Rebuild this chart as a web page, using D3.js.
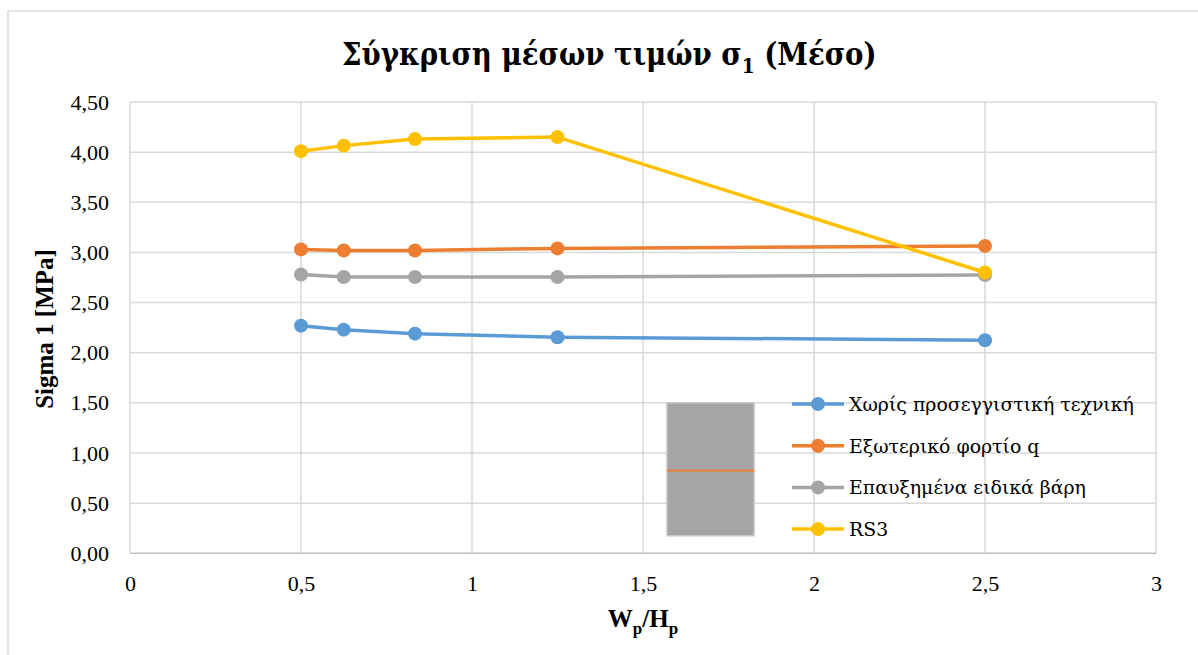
<!DOCTYPE html>
<html>
<head>
<meta charset="utf-8">
<script src="https://cdn.jsdelivr.net/npm/d3@7"></script>
<style>
  html, body { margin: 0; padding: 0; background: #fff; }
  svg { display: block; }
  text { font-family: "Liberation Serif", "DejaVu Serif", serif; fill: #000; }
  .greek-title { font-family: "DejaVu Serif", serif; font-stretch: condensed; }
  .greek { font-family: "DejaVu Serif", serif; }
</style>
</head>
<body>
<svg id="chart" width="1198" height="655"></svg>
<script>
// ---- data ----
const xValues = [0.5, 0.625, 0.8333, 1.25, 2.5];
const seriesNames = ["Χωρίς προσεγγιστική τεχνική", "Εξωτερικό φορτίο q", "Επαυξημένα ειδικά βάρη", "RS3"];
const seriesBlue   = [2.27, 2.23, 2.19, 2.155, 2.125];
const seriesOrange = [3.03, 3.02, 3.02, 3.04, 3.065];
const seriesGrey   = [2.78, 2.755, 2.755, 2.755, 2.775];
const seriesYellow = [4.01, 4.065, 4.13, 4.15, 2.80];
const seriesColors = ["#5b9bd5", "#ed7d31", "#a5a5a5", "#ffc000"];
const xTicks = [0, 0.5, 1, 1.5, 2, 2.5, 3];
const yTicks = [0, 0.5, 1, 1.5, 2, 2.5, 3, 3.5, 4, 4.5];
// stray box element in the plot (data coordinates)
const boxX = [1.57, 1.825];
const boxY = [0.175, 1.5];
const boxMid = 0.825;

const allSeries = [seriesBlue, seriesOrange, seriesGrey, seriesYellow];

const svg = d3.select("#chart");
const x = d3.scaleLinear().domain([0, 3]).range([130, 1156]);
const y = d3.scaleLinear().domain([0, 4.5]).range([553.3, 102]);

const fmtX = v => String(v).replace(".", ",");
const fmtY = v => d3.format(".2f")(v).replace(".", ",");

// scale a text's font-size so that its rendered width matches a target width
function fitWidth(sel, target) {
  const fs = parseFloat(sel.attr("font-size"));
  const w = sel.node().getComputedTextLength();
  const nfs = fs * target / w;
  sel.attr("font-size", nfs);
  return nfs;
}

// outer border
svg.append("rect").attr("x", 8).attr("y", 11).attr("width", 1300).attr("height", 800)
  .attr("fill", "none").attr("stroke", "#d9d9d9").attr("stroke-width", 1.5);

// title
const title = svg.append("text").attr("class", "greek-title").attr("x", 342).attr("y", 65)
  .attr("font-weight", "bold").attr("font-size", 32);
title.append("tspan").text("Σύγκριση μέσων τιμών σ");
const tsub = title.append("tspan").attr("dy", 8).text("1");
title.append("tspan").attr("dy", -8).text(" (Μέσο)");
const tfs = fitWidth(title, 535);
tsub.attr("font-size", tfs * 0.68);
fitWidth(title, 535);

// gridlines
const grid = svg.append("g");
grid.selectAll(".gy").data(yTicks.filter(d => d > 0)).join("line")
  .attr("x1", x(0)).attr("x2", x(3)).attr("y1", d => y(d)).attr("y2", d => y(d))
  .attr("stroke", "#d9d9d9").attr("stroke-width", 1.5);
grid.selectAll(".gx").data(xTicks.filter(d => d > 0)).join("line")
  .attr("x1", d => x(d)).attr("x2", d => x(d)).attr("y1", y(0)).attr("y2", y(4.5))
  .attr("stroke", "#d9d9d9").attr("stroke-width", 1.5);
// axis lines
svg.append("line").attr("x1", x(0)).attr("x2", x(3)).attr("y1", y(0)).attr("y2", y(0))
  .attr("stroke", "#bfbfbf").attr("stroke-width", 1.5);
svg.append("line").attr("x1", x(0)).attr("x2", x(0)).attr("y1", y(0)).attr("y2", y(4.5))
  .attr("stroke", "#d9d9d9").attr("stroke-width", 1.5);

// axes tick labels via d3 axes
const yAxis = d3.axisLeft(y).tickValues(yTicks).tickFormat(fmtY).tickSize(0).tickPadding(0);
const gy = svg.append("g").attr("transform", "translate(109,0)").call(yAxis);
gy.select(".domain").remove();
gy.selectAll("text").attr("font-size", 22).attr("font-family", "Liberation Serif").attr("fill", "#000");

const xAxis = d3.axisBottom(x).tickValues(xTicks).tickFormat(fmtX).tickSize(0).tickPadding(0);
const gx = svg.append("g").attr("transform", "translate(0,575)").call(xAxis);
gx.select(".domain").remove();
gx.selectAll("text").attr("font-size", 22).attr("font-family", "Liberation Serif").attr("fill", "#000");

// axis titles
svg.append("text").attr("transform", "translate(53,329) rotate(-90)").attr("text-anchor", "middle")
  .attr("font-weight", "bold").attr("font-size", 25).text("Sigma 1 [MPa]");
const xt = svg.append("text").attr("x", 643).attr("y", 627).attr("text-anchor", "middle")
  .attr("font-weight", "bold").attr("font-size", 25);
xt.append("tspan").text("W");
xt.append("tspan").attr("font-size", 17).attr("dy", 7).text("p");
xt.append("tspan").attr("dy", -7).text("/H");
xt.append("tspan").attr("font-size", 17).attr("dy", 7).text("p");

// stray box
svg.append("rect").attr("x", x(boxX[0])).attr("y", y(boxY[1]))
  .attr("width", x(boxX[1]) - x(boxX[0])).attr("height", y(boxY[0]) - y(boxY[1]))
  .attr("fill", "#a5a5a5").attr("stroke", "#c8c8c8").attr("stroke-width", 1.5);
svg.append("line").attr("x1", x(boxX[0])).attr("x2", x(boxX[1]))
  .attr("y1", y(boxMid)).attr("y2", y(boxMid)).attr("stroke", "#ed7d31").attr("stroke-width", 2);

// series
const line = d3.line().x(d => x(d[0])).y(d => y(d[1]));
allSeries.forEach((vals, i) => {
  const pts = xValues.map((xv, j) => [xv, vals[j]]);
  const g = svg.append("g");
  g.append("path").attr("d", line(pts)).attr("fill", "none")
    .attr("stroke", seriesColors[i]).attr("stroke-width", 3.5).attr("stroke-linejoin", "round");
  g.selectAll("circle").data(pts).join("circle")
    .attr("cx", d => x(d[0])).attr("cy", d => y(d[1])).attr("r", 7).attr("fill", seriesColors[i]);
});

// legend
const legend = svg.append("g");
const legendTexts = [];
seriesNames.forEach((name, i) => {
  const cy = 404 + i * 41.7;
  legend.append("line").attr("x1", 792).attr("x2", 844).attr("y1", cy).attr("y2", cy)
    .attr("stroke", seriesColors[i]).attr("stroke-width", 3.5);
  legend.append("circle").attr("cx", 818).attr("cy", cy).attr("r", 7).attr("fill", seriesColors[i]);
  legendTexts.push(legend.append("text").attr("class", "greek").attr("x", 849).attr("y", cy + 7)
    .attr("font-size", 22).text(name));
});
const lfs = fitWidth(legendTexts[0], 285);
legendTexts.forEach(t => t.attr("font-size", lfs));
</script>
</body>
</html>
